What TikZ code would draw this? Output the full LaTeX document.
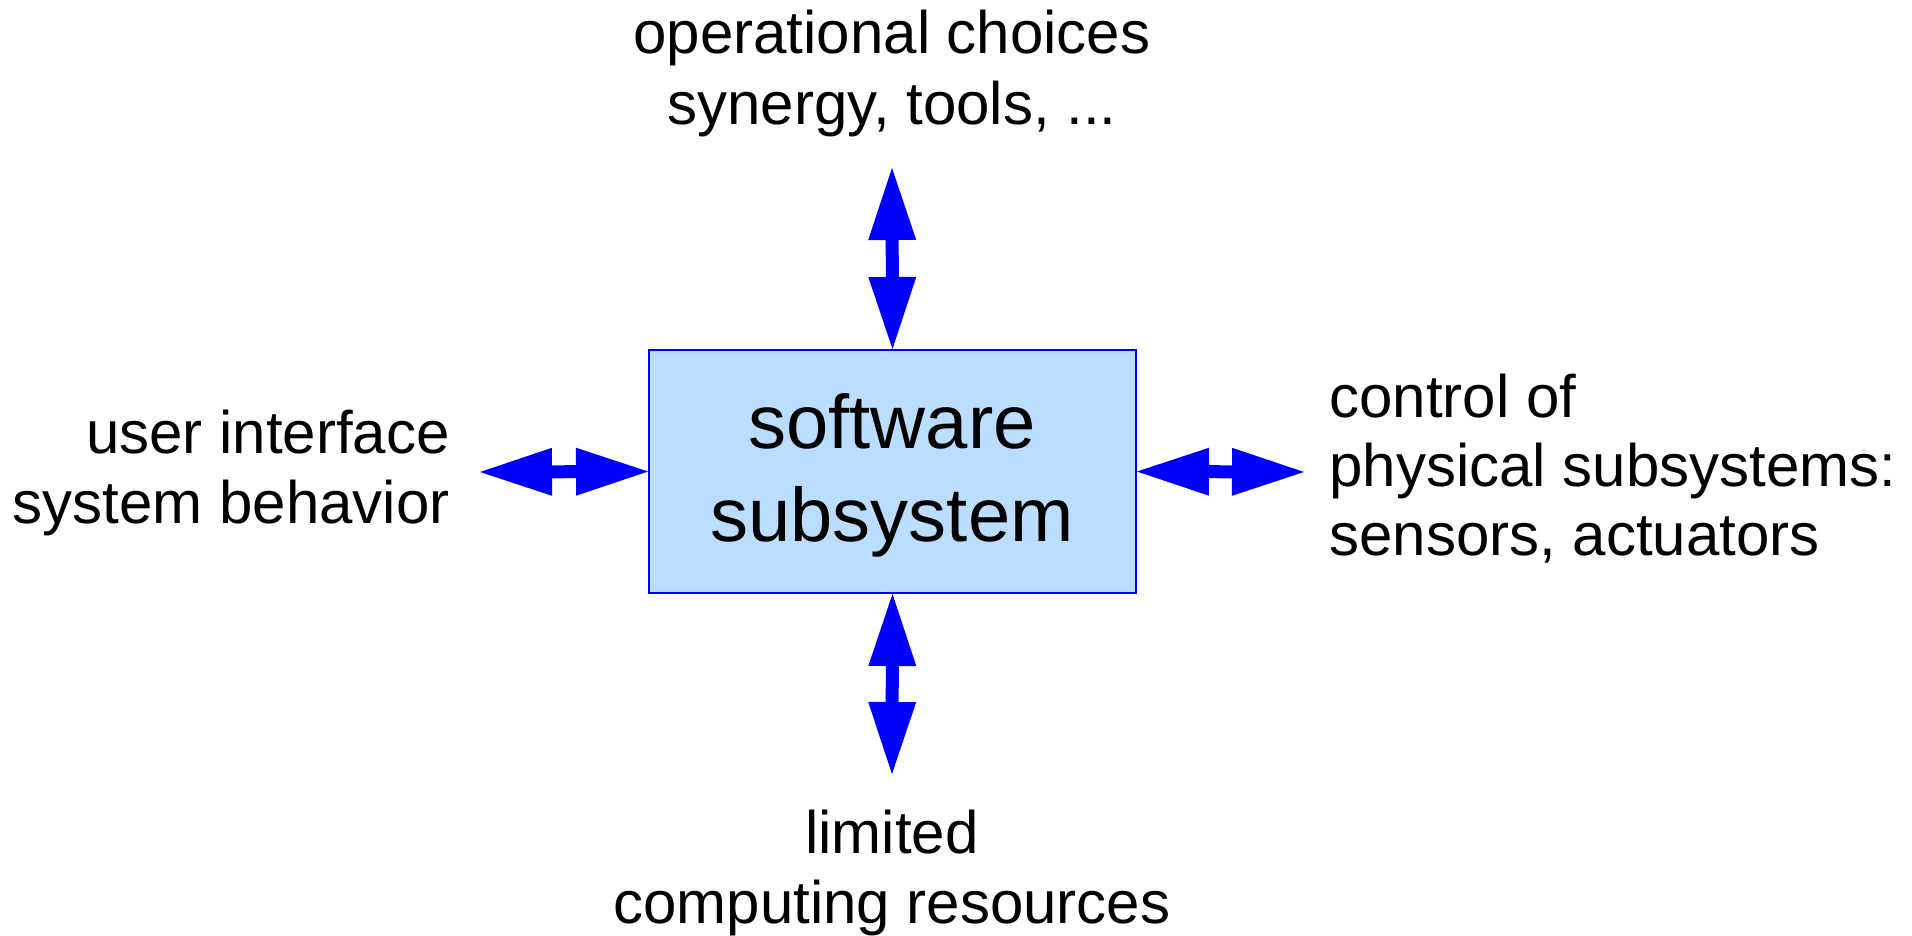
\documentclass[tikz,border=0pt]{standalone}
\usepackage{fontspec}
\setmainfont{Liberation Sans}
\usetikzlibrary{arrows.meta}
\definecolor{boxfill}{RGB}{187,221,255}
\definecolor{pureblue}{RGB}{0,0,255}
\tikzset{
  sysbox/.style={draw=pureblue, fill=boxfill, line width=1pt, minimum width=243.5pt, minimum height=121.5pt, inner sep=0pt},
  bigtext/.style={anchor=base, inner sep=0pt, font=\fontsize{38}{46}\selectfont},
  lbl/.style={inner sep=0pt, font=\fontsize{30}{35}\selectfont},
  dblarrow/.style={draw=pureblue, line width=6.5pt,
    {Triangle[length=36pt,width=24pt,line width=0pt]}-{Triangle[length=36pt,width=24pt,line width=0pt]}}
}
\begin{document}
\begin{tikzpicture}[x=0.5pt,y=-0.5pt]
\useasboundingbox (0,0) rectangle (1912,936);
\node[sysbox] (box) at (892.5,471.5) {};
\node[bigtext] (sw1) at (892,448) {software};
\node[bigtext] (sw2) at (892,541) {subsystem};
% top label
\node[lbl,anchor=base] (t1) at (892,54) {operational choices};
\node[lbl,anchor=base] (t2) at (892,125) {synergy, tools, ...};
% left label
\node[lbl,anchor=base east] (l1) at (450,453) {user interface};
\node[lbl,anchor=base east] (l2) at (450,523) {system behavior};
% right label
\node[lbl,anchor=base west] (r1) at (1329,417) {control of};
\node[lbl,anchor=base west] (r2) at (1329,486) {physical subsystems:};
\node[lbl,anchor=base west] (r3) at (1329,555) {sensors, actuators};
% bottom label
\node[lbl,anchor=base] (b1) at (892,853) {limited};
\node[lbl,anchor=base] (b2) at (892,923) {computing resources};
% arrow ends
\coordinate (topend) at (892,168);
\coordinate (leftend) at (480,472);
\coordinate (rightend) at (1304,472);
\coordinate (botend) at (892,774);
\draw[dblarrow] (box.north) -- (topend);
\draw[dblarrow] (box.west) -- (leftend);
\draw[dblarrow] (box.east) -- (rightend);
\draw[dblarrow] (box.south) -- (botend);
\end{tikzpicture}
\end{document}
